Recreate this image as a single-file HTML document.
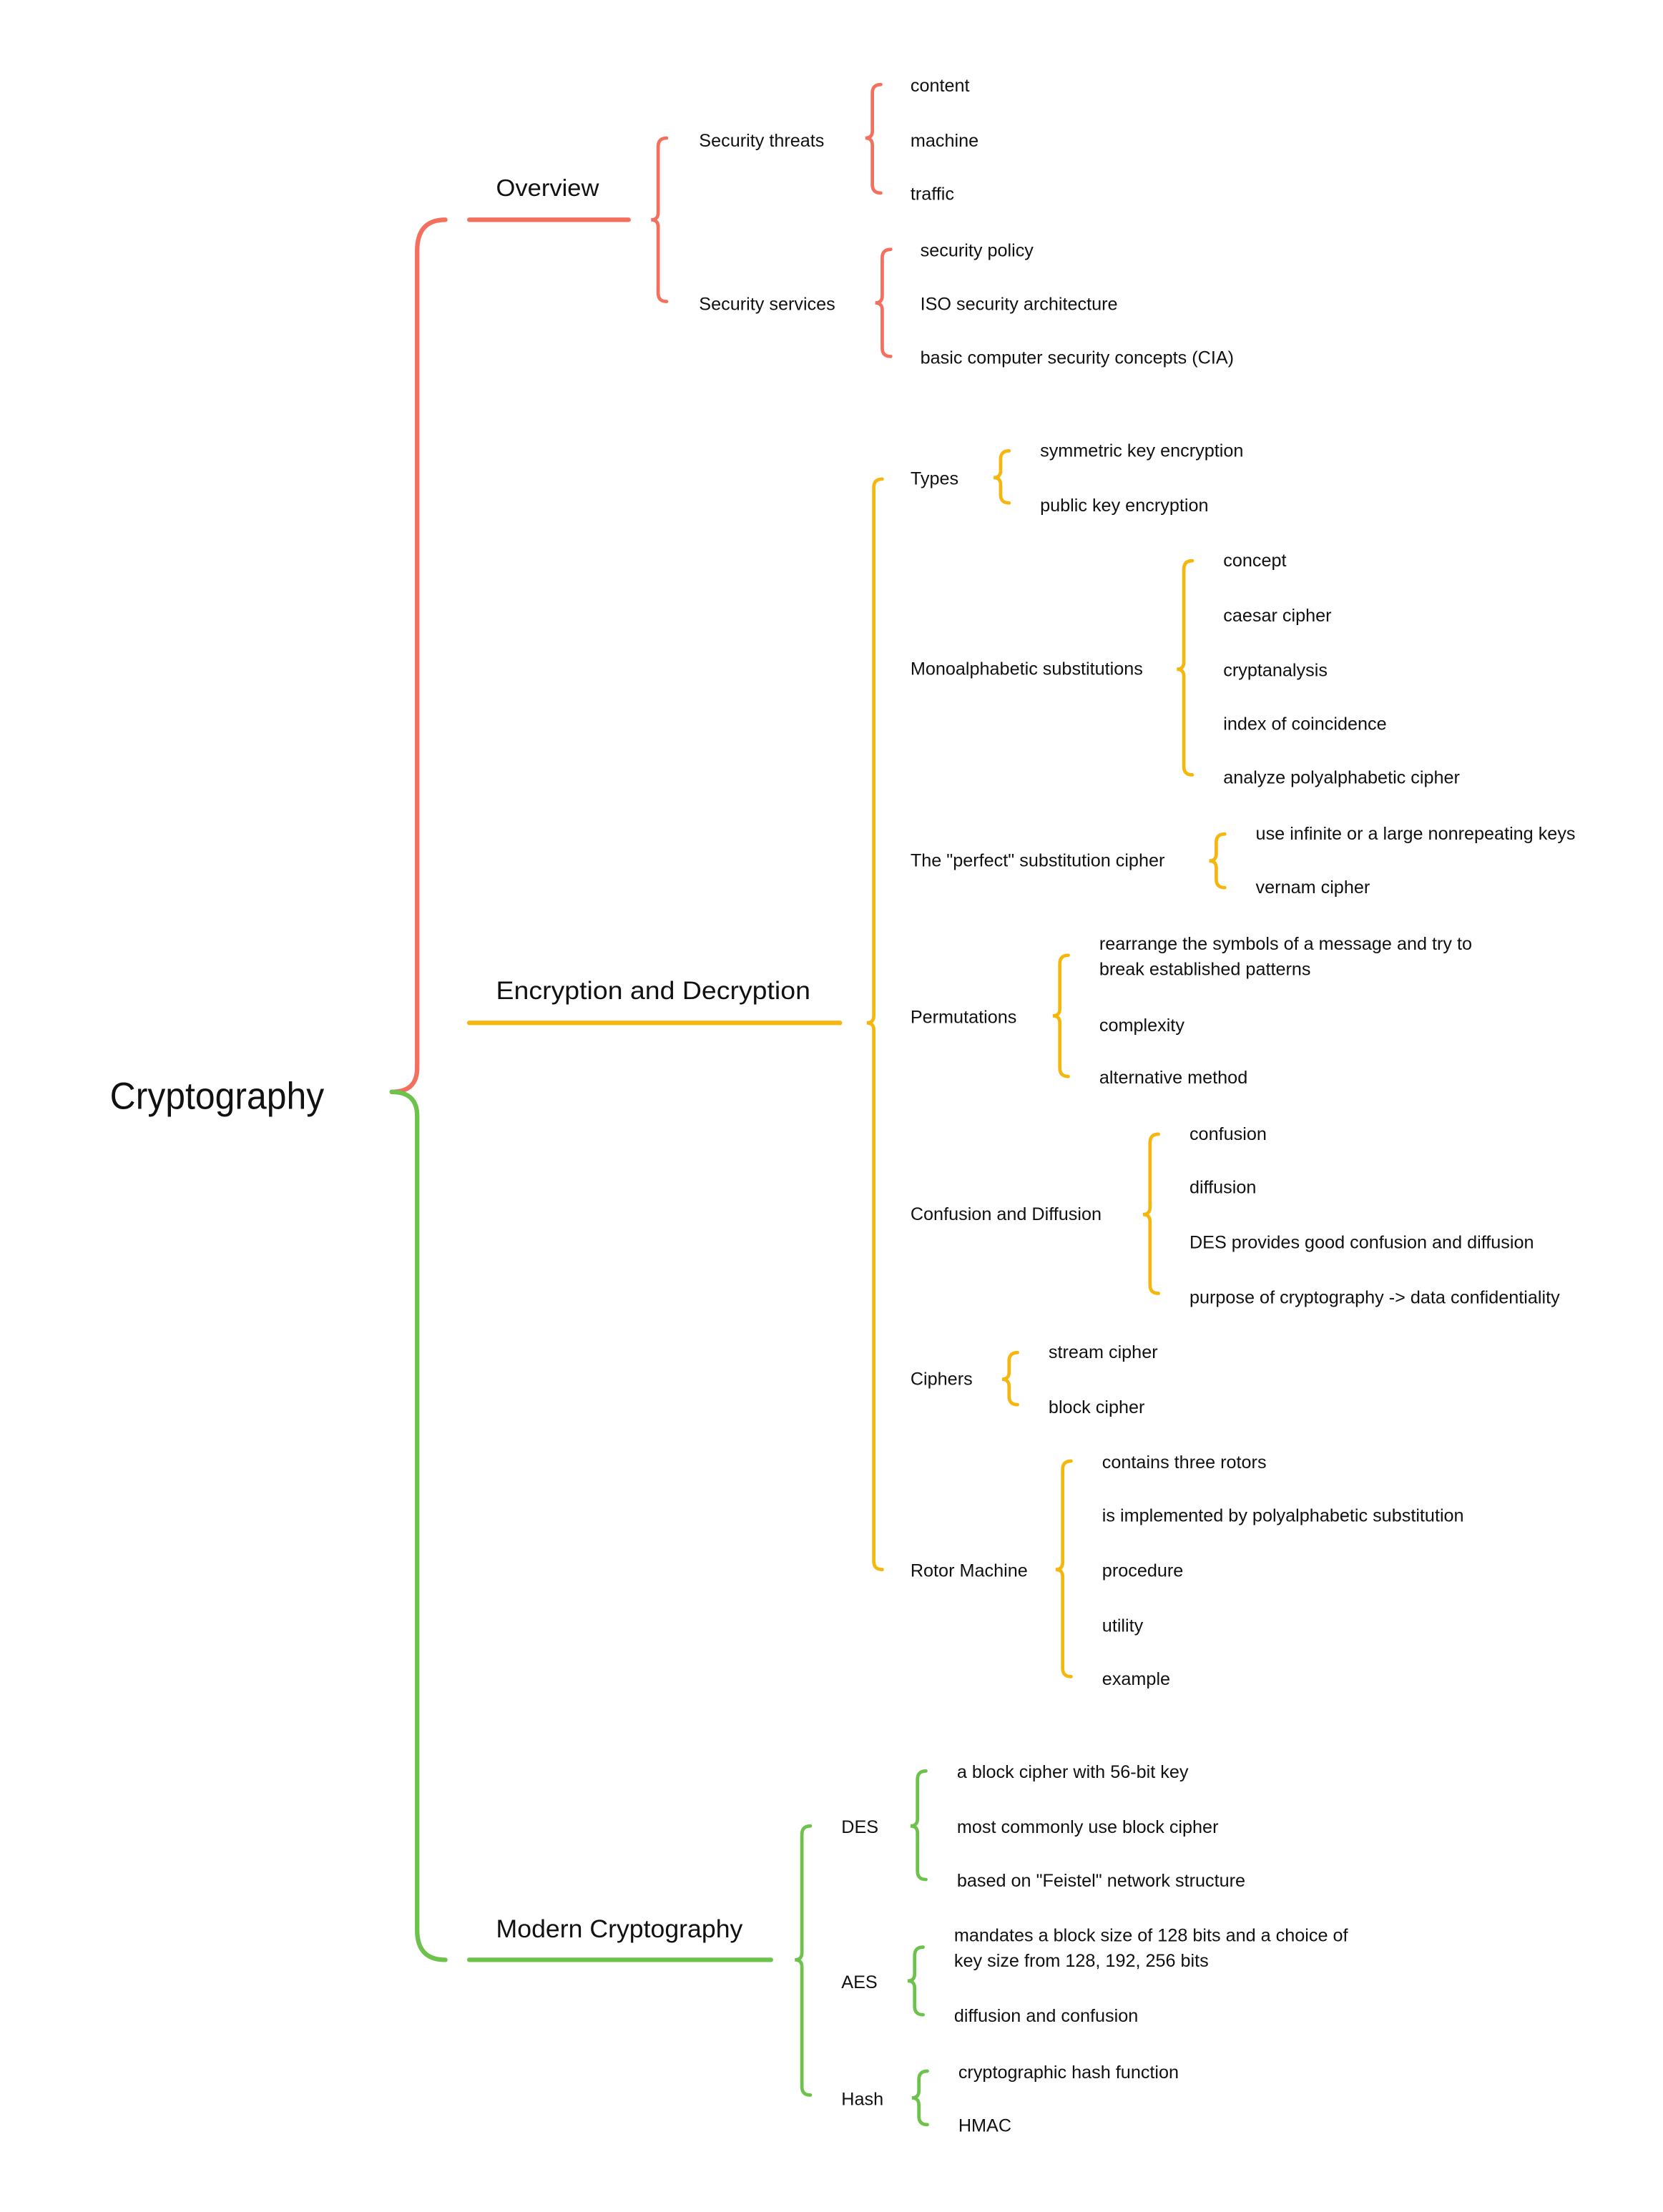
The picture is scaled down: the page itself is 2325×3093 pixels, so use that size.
<!DOCTYPE html>
<html><head><meta charset="utf-8"><style>html,body{margin:0;padding:0;background:#fff}svg{display:block}text{font-family:"Liberation Sans",sans-serif;fill:#111}</style></head>
<body>
<svg width="2325" height="3093" viewBox="0 0 1180 1570" preserveAspectRatio="none" xmlns="http://www.w3.org/2000/svg">
<g fill="none" stroke-linecap="round" stroke-linejoin="round">
<g stroke="#F4705E" stroke-width="3.2">
<path d="M316 156 Q296 156 296 178 L296 758 Q296 775 278 775"/>
<path d="M333 156 L446 156"/>
</g>
<g stroke="#6CC24A" stroke-width="3.2">
<path d="M278 775 Q296 775 296 792 L296 1370 Q296 1391 316 1391"/>
<path d="M333 1391 L547 1391"/>
</g>
<g stroke="#F5B60E" stroke-width="3.2">
<path d="M333 726 L596 726"/>
</g>
</g>
<g fill="none" stroke-width="2.4" stroke-linecap="round">
<path stroke="#F4705E" d="M473 98 Q467 98 467 104 L467 151 Q467 156 462 156 Q467 156 467 161 L467 208 Q467 214 473 214"/>
<path stroke="#F4705E" d="M625 60 Q619 60 619 66 L619 93 Q619 98 614 98 Q619 98 619 103 L619 131 Q619 137 625 137"/>
<path stroke="#F4705E" d="M632 177 Q626 177 626 183 L626 210 Q626 215 621 215 Q626 215 626 220 L626 247 Q626 253 632 253"/>
<path stroke="#F5B60E" d="M626 340 Q620 340 620 346 L620 721 Q620 726 615 726 Q620 726 620 731 L620 1108 Q620 1114 626 1114"/>
<path stroke="#F5B60E" d="M716 320 Q710 320 710 326 L710 334 Q710 339 705 339 Q710 339 710 344 L710 351 Q710 357 716 357"/>
<path stroke="#F5B60E" d="M846 398 Q840 398 840 404 L840 470 Q840 475 835 475 Q840 475 840 480 L840 544 Q840 550 846 550"/>
<path stroke="#F5B60E" d="M869 592 Q863 592 863 598 L863 606 Q863 611 858 611 Q863 611 863 616 L863 624 Q863 630 869 630"/>
<path stroke="#F5B60E" d="M758 678 Q752 678 752 684 L752 716 Q752 721 747 721 Q752 721 752 726 L752 758 Q752 764 758 764"/>
<path stroke="#F5B60E" d="M822 805 Q816 805 816 811 L816 857 Q816 862 811 862 Q816 862 816 867 L816 912 Q816 918 822 918"/>
<path stroke="#F5B60E" d="M722 960 Q716 960 716 966 L716 974 Q716 979 711 979 Q716 979 716 984 L716 991 Q716 997 722 997"/>
<path stroke="#F5B60E" d="M760 1037 Q754 1037 754 1043 L754 1109 Q754 1114 749 1114 Q754 1114 754 1119 L754 1184 Q754 1190 760 1190"/>
<path stroke="#6CC24A" d="M575 1296 Q569 1296 569 1302 L569 1386 Q569 1391 564 1391 Q569 1391 569 1396 L569 1481 Q569 1487 575 1487"/>
<path stroke="#6CC24A" d="M657 1257 Q651 1257 651 1263 L651 1291 Q651 1296 646 1296 Q651 1296 651 1301 L651 1328 Q651 1334 657 1334"/>
<path stroke="#6CC24A" d="M655 1382 Q649 1382 649 1388 L649 1401 Q649 1406 644 1406 Q649 1406 649 1411 L649 1424 Q649 1430 655 1430"/>
<path stroke="#6CC24A" d="M658 1470 Q652 1470 652 1476 L652 1484 Q652 1489 647 1489 Q652 1489 652 1494 L652 1502 Q652 1508 658 1508"/>
</g>
<text x="78" y="787" font-size="27" textLength="152" lengthAdjust="spacingAndGlyphs">Cryptography</text>
<text x="352" y="139" font-size="17" textLength="73" lengthAdjust="spacingAndGlyphs">Overview</text>
<text x="352" y="709" font-size="18" textLength="223" lengthAdjust="spacingAndGlyphs">Encryption and Decryption</text>
<text x="352" y="1375" font-size="18" textLength="175" lengthAdjust="spacingAndGlyphs">Modern Cryptography</text>
<g font-size="12.8">
<text x="496" y="104">Security threats</text>
<text x="646" y="65">content</text>
<text x="646" y="104">machine</text>
<text x="646" y="142">traffic</text>
<text x="496" y="220">Security services</text>
<text x="653" y="182">security policy</text>
<text x="653" y="220">ISO security architecture</text>
<text x="653" y="258">basic computer security concepts (CIA)</text>
<text x="646" y="344">Types</text>
<text x="738" y="324">symmetric key encryption</text>
<text x="738" y="363">public key encryption</text>
<text x="646" y="479">Monoalphabetic substitutions</text>
<text x="868" y="402">concept</text>
<text x="868" y="441">caesar cipher</text>
<text x="868" y="480">cryptanalysis</text>
<text x="868" y="518">index of coincidence</text>
<text x="868" y="556">analyze polyalphabetic cipher</text>
<text x="646" y="615">The "perfect" substitution cipher</text>
<text x="891" y="596">use infinite or a large nonrepeating keys</text>
<text x="891" y="634">vernam cipher</text>
<text x="646" y="726">Permutations</text>
<text x="780" y="674">rearrange the symbols of a message and try to</text>
<text x="780" y="692">break established patterns</text>
<text x="780" y="732">complexity</text>
<text x="780" y="769">alternative method</text>
<text x="646" y="866">Confusion and Diffusion</text>
<text x="844" y="809">confusion</text>
<text x="844" y="847">diffusion</text>
<text x="844" y="886">DES provides good confusion and diffusion</text>
<text x="844" y="925">purpose of cryptography -&gt; data confidentiality</text>
<text x="646" y="983">Ciphers</text>
<text x="744" y="964">stream cipher</text>
<text x="744" y="1003">block cipher</text>
<text x="646" y="1119">Rotor Machine</text>
<text x="782" y="1042">contains three rotors</text>
<text x="782" y="1080">is implemented by polyalphabetic substitution</text>
<text x="782" y="1119">procedure</text>
<text x="782" y="1158">utility</text>
<text x="782" y="1196">example</text>
<text x="597" y="1301">DES</text>
<text x="679" y="1262">a block cipher with 56-bit key</text>
<text x="679" y="1301">most commonly use block cipher</text>
<text x="679" y="1339">based on "Feistel" network structure</text>
<text x="597" y="1411">AES</text>
<text x="677" y="1378">mandates a block size of 128 bits and a choice of</text>
<text x="677" y="1396">key size from 128, 192, 256 bits</text>
<text x="677" y="1435">diffusion and confusion</text>
<text x="597" y="1494">Hash</text>
<text x="680" y="1475">cryptographic hash function</text>
<text x="680" y="1513">HMAC</text>
</g>
</svg>
</body></html>
